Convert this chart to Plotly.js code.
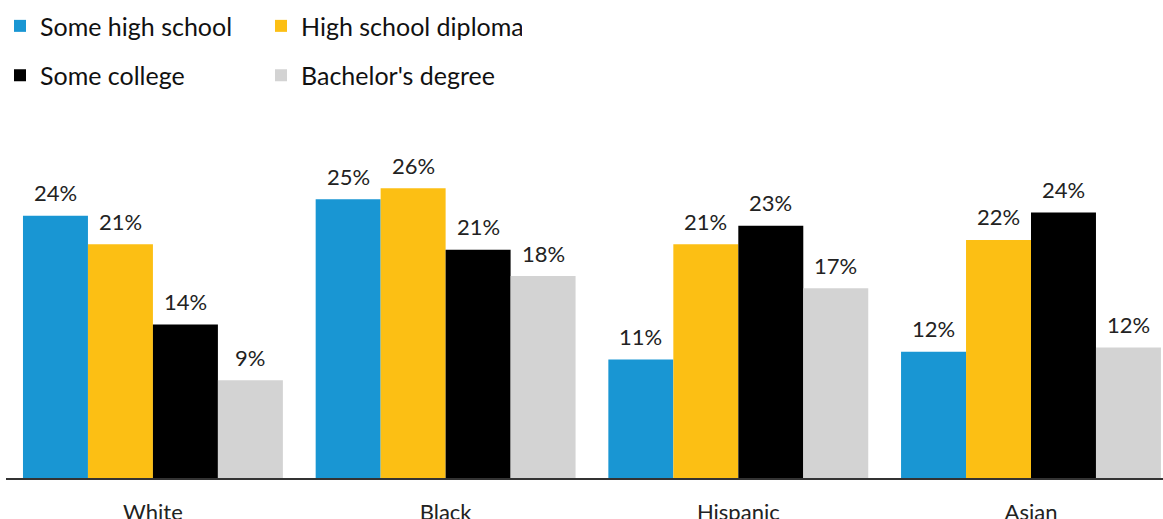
<!DOCTYPE html>
<html>
<head>
<meta charset="utf-8">
<script src="https://cdn.plot.ly/plotly-3.0.1.min.js"></script>
<style>html,body{margin:0;padding:0;background:#fff;}#chart{width:1163px;height:519px;}</style>
</head>
<body>
<div id="chart"></div>
<script>
const categories = ["White", "Black", "Hispanic", "Asian"];
const seriesNames = ["Some high school", "High school diploma", "Some college", "Bachelor's degree"];
const someHighSchool   = [23.9, 25.4, 10.8, 11.5];
const highSchoolDiploma = [21.3, 26.4, 21.3, 21.7];
const someCollege      = [14.0, 20.8, 23.0, 24.2];
const bachelorsDegree  = [8.9, 18.4, 17.3, 11.9];
const someHighSchoolLabels    = ["24%", "25%", "11%", "12%"];
const highSchoolDiplomaLabels = ["21%", "26%", "21%", "22%"];
const someCollegeLabels       = ["14%", "21%", "23%", "24%"];
const bachelorsDegreeLabels   = ["9%", "18%", "17%", "12%"];

const values = [someHighSchool, highSchoolDiploma, someCollege, bachelorsDegree];
const labels = [someHighSchoolLabels, highSchoolDiplomaLabels, someCollegeLabels, bachelorsDegreeLabels];
const colors = ["#1996D3", "#FCBF14", "#000000", "#D3D3D3"];
const legendIds = ["legend", "legend", "legend2", "legend2"];

const FONT = "Lato, 'Open Sans', sans-serif";
const bargap = 0.112;
const nSeries = values.length;
const barW = (1 - bargap) / nSeries;

const traces = values.map((v, i) => ({
  type: "bar",
  name: seriesNames[i],
  x: categories.map((c, j) => j),
  y: v,
  marker: {color: colors[i], line: {width: 0}},
  legend: legendIds[i],
  hoverinfo: "skip"
}));

const annotations = [];
values.forEach((v, i) => {
  v.forEach((val, j) => {
    annotations.push({
      x: j + (i - (nSeries - 1) / 2) * barW,
      y: val,
      xref: "x", yref: "y",
      text: labels[i][j],
      showarrow: false,
      yanchor: "middle",
      yshift: 23,
      font: {family: FONT, size: 22, color: "#222222"}
    });
  });
});

const legendCommon = {
  orientation: "h", xref: "container", yref: "container",
  xanchor: "left", yanchor: "top",
  entrywidth: 216, entrywidthmode: "pixels",
  font: {family: FONT, size: 25, color: "#111111"},
  itemclick: false, itemdoubleclick: false,
  bgcolor: "rgba(0,0,0,0)"
};

const layout = {
  width: 1163, height: 519,
  margin: {l: 6, r: 0, t: 120, b: 41},
  paper_bgcolor: "#ffffff",
  plot_bgcolor: "#ffffff",
  barmode: "group",
  bargap: bargap,
  bargroupgap: 0,
  showlegend: true,
  font: {family: FONT, color: "#222222"},
  xaxis: {
    range: [-0.502, 3.451],
    tickmode: "array",
    tickvals: categories.map((c, j) => j),
    ticktext: categories,
    showline: true, linecolor: "#333333", linewidth: 2,
    showgrid: false, zeroline: false, ticks: "",
    tickfont: {family: FONT, size: 22, color: "#222222"},
    ticklabelstandoff: 14,
    fixedrange: true
  },
  yaxis: {
    range: [0, 32.63],
    visible: false, showgrid: false, zeroline: false,
    fixedrange: true
  },
  legend: Object.assign({}, legendCommon, {x: -0.003, y: 0.994}),
  legend2: Object.assign({}, legendCommon, {x: -0.003, y: 0.899}),
  annotations: annotations
};

Plotly.newPlot("chart", traces, layout, {displayModeBar: false, staticPlot: true});
</script>
</body>
</html>
